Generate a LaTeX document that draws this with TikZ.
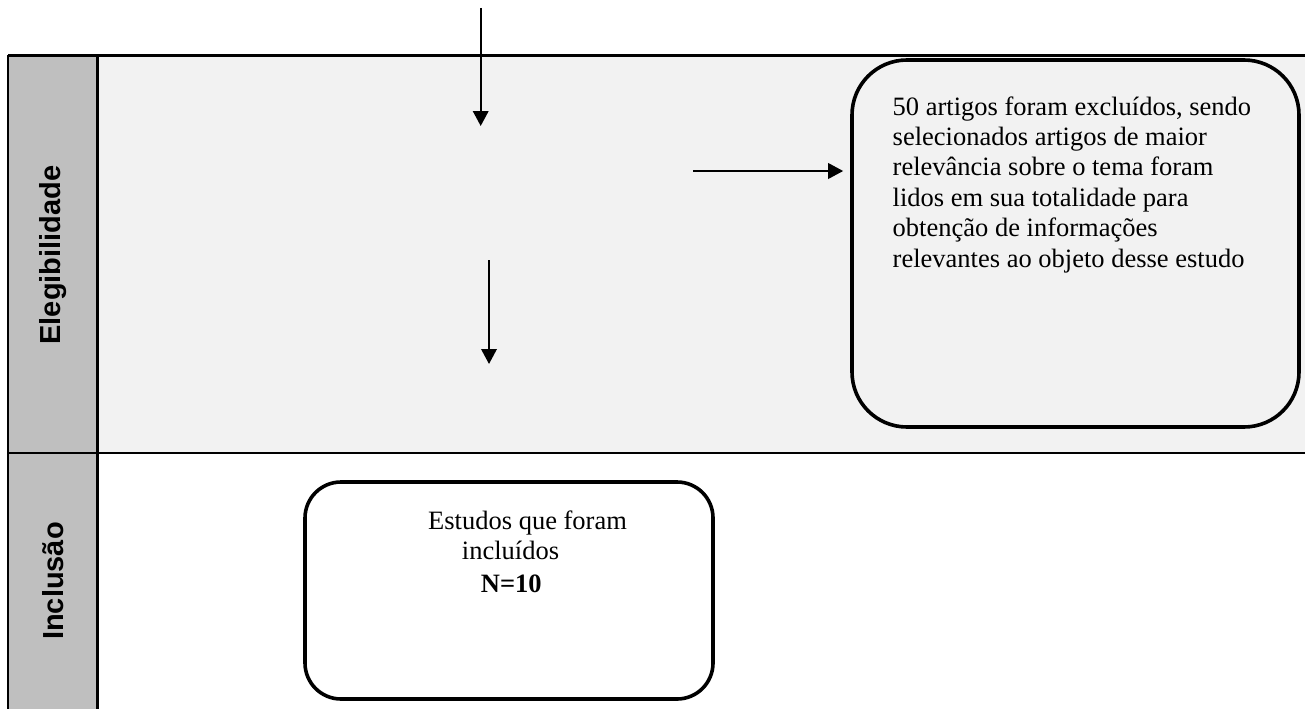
\documentclass[tikz,border=0pt]{standalone}
\usepackage{fontspec}
\setmainfont{Liberation Serif}
\setsansfont{Liberation Sans}
\usetikzlibrary{arrows.meta}
\definecolor{colgray}{HTML}{BFBFBF}
\definecolor{rowgray}{HTML}{F2F2F2}
\begin{document}
\begin{tikzpicture}[x=1pt,y=-1pt,
  gridline/.style={line width=2.2pt},
  arr/.style={line width=2pt,-{Triangle[width=15.5pt,length=15pt]}},
  rbox/.style={draw,line width=3.6pt,inner sep=0pt,rounded corners=#1},
  body/.style={font=\fontsize{26.5}{30.4}\selectfont,inner sep=0pt,anchor=base west},
  lane/.style={font=\sffamily\bfseries\fontsize{29}{34}\selectfont,rotate=90,inner sep=0pt}]
\useasboundingbox (0,0) rectangle (1305,709);
% backgrounds
\fill[rowgray] (98,55.5) rectangle (1305,453.3);
\fill[colgray] (8,55.5) rectangle (97.5,709);
% table lines
\draw[gridline] (8,55.5) -- (1305,55.5);
\draw[gridline] (8,453.3) -- (1305,453.3);
\draw[gridline] (8,55.5) -- (8,709);
\draw[gridline] (97.5,55.5) -- (97.5,709);
% lane labels
\node[lane] (lelig) at (53,255) {Elegibilidade};
\node[lane] (lincl) at (53,581) {Inclusão};
% boxes
\node[rbox=55pt,fill=rowgray,minimum width=447pt,minimum height=367pt] (excl) at (1075.5,243.5) {};
\node[rbox=36pt,fill=white,minimum width=408pt,minimum height=217pt] (incl) at (509,590.5) {};
% text of exclusion box
\node[body] (e1) at (892.5,115) {50 artigos foram excluídos, sendo};
\node[body] (e2) at (892.5,145.4) {selecionados artigos de maior};
\node[body] (e3) at (892.5,175.8) {relevância sobre o tema foram};
\node[body] (e4) at (892.5,206.2) {lidos em sua totalidade para};
\node[body] (e5) at (892.5,236.6) {obtenção de informações};
\node[body] (e6) at (892.5,267) {relevantes ao objeto desse estudo};
% text of inclusion box
\node[body] (i1) at (428,529.3) {Estudos que foram};
\node[body] (i2) at (461.7,559.3) {incluídos};
\node[body,font=\bfseries\fontsize{26.5}{30.4}\selectfont] (i3) at (480.7,592.5) {N=10};
% arrows
\coordinate (a1s) at (480.7,8);
\coordinate (a1e) at (480.7,126);
\coordinate (a2s) at (489,260);
\coordinate (a2e) at (489,364);
\coordinate (a3s) at (693,171);
\draw[arr] (a1s) -- (a1e);
\draw[arr] (a2s) -- (a2e);
\draw[arr,shorten >=7pt] (a3s) -- (excl.west |- a3s);
\end{tikzpicture}
\end{document}
